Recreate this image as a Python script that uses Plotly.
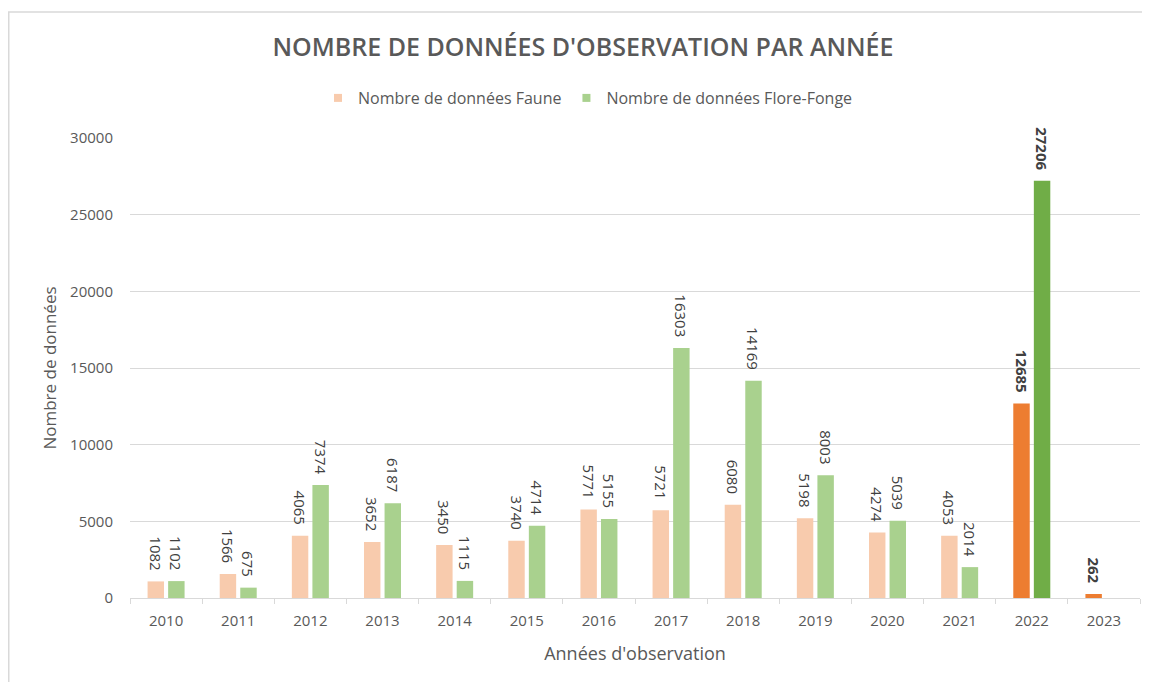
import plotly.graph_objects as go

years = ["2010", "2011", "2012", "2013", "2014", "2015", "2016", "2017",
         "2018", "2019", "2020", "2021", "2022", "2023"]
faune = [1082, 1566, 4065, 3652, 3450, 3740, 5771, 5721, 6080, 5198, 4274, 4053, 12685, 262]
flore = [1102, 675, 7374, 6187, 1115, 4714, 5155, 16303, 14169, 8003, 5039, 2014, 27206, None]
highlight_years = ["2022", "2023"]
series_names = ["Nombre de données Faune", "Nombre de données Flore-Fonge"]

FONT = "Open Sans"
GRAY = "#595959"
LABEL = "#404040"
LIGHT = ["#F8CBAD", "#A9D18E"]
DARK = ["#ED7D31", "#70AD47"]

# page body has an 8px margin; work in figure pixels
O = 8
W, H = 1150 - O, 682 - O
L = 130 - O
R = W - (1140 - O)
T = 138 - O
B = H - (598 - O)
pw = W - L - R
ph = H - T - B


def px_x(p):
    # p: figure pixel
    return (p - L) / pw


def px_y(p):
    return (H - B - p) / ph


def labels(vals):
    out = []
    for y, v in zip(years, vals):
        if v is None:
            out.append("")
        elif y in highlight_years:
            out.append(f"<b>{v}</b>\u00a0\u00a0")
        else:
            out.append(f"{v}\u00a0\u00a0")
    return out


fig = go.Figure()
for i, vals in enumerate([faune, flore]):
    colors = [DARK[i] if y in highlight_years else LIGHT[i] for y in years]
    fig.add_trace(go.Bar(
        name=series_names[i], x=years, y=vals,
        marker=dict(color=colors, line=dict(width=0)),
        text=labels(vals), textposition="outside", textangle=90,
        constraintext="none",
        textfont=dict(family=FONT, size=15, color=LABEL),
        cliponaxis=False, hoverinfo="x+y", showlegend=False,
    ))
# legend entries (small square markers)
for i in range(2):
    fig.add_trace(go.Scatter(
        name=series_names[i], x=[None], y=[None], mode="markers",
        marker=dict(symbol="square", size=8, color=LIGHT[i]),
        showlegend=True, hoverinfo="skip",
    ))

fig.update_layout(
    width=W, height=H,
    margin=dict(l=L, r=R, t=T, b=B, autoexpand=False),
    paper_bgcolor="white", plot_bgcolor="white",
    barmode="group", bargap=0.43, bargroupgap=0.2,
    font=dict(family=FONT, color=GRAY, size=15),
    title=dict(
        text="NOMBRE DE DONNÉES D'OBSERVATION PAR ANNÉE",
        x=(583 - O) / W, xanchor="center", xref="container",
        y=1 - (47 - O) / H, yanchor="middle", yref="container",
        font=dict(family=FONT, size=25, color=GRAY, weight=600),
    ),
    legend=dict(
        orientation="h", x=(588 - O) / W, xanchor="center", xref="container",
        y=1 - (98 - O) / H, yanchor="middle", yref="container",
        font=dict(family=FONT, size=16, color=GRAY),
        itemwidth=30, bgcolor="rgba(0,0,0,0)", tracegroupgap=0,
    ),
    xaxis=dict(
        type="category", automargin=False,
        title=dict(text="Années d'observation", font=dict(family=FONT, size=18, color=GRAY), standoff=18),
        showline=True, linecolor="#D9D9D9", linewidth=1,
        ticks="outside", tickson="boundaries", ticklen=5, tickcolor="#D9D9D9",
        tickfont=dict(family=FONT, size=15, color=GRAY),
        ticklabelstandoff=9,
        showgrid=False,
    ),
    yaxis=dict(
        range=[0, 30000], dtick=5000, tick0=0, tickformat="d", automargin=False,
        title=dict(text="Nombre de données", font=dict(family=FONT, size=17, color=GRAY), standoff=9),
        showgrid=True, gridcolor="#D9D9D9", gridwidth=1,
        zeroline=False, showline=False,
        tickfont=dict(family=FONT, size=15, color=GRAY),
        ticks="", ticklabelstandoff=16,
    ),
    shapes=[
        dict(type="line", xref="paper", yref="paper",
             x0=px_x(0.75), x1=px_x(0.75), y0=px_y(4), y1=px_y(H + 10),
             line=dict(color="#D9D9D9", width=1.5)),
        dict(type="line", xref="paper", yref="paper",
             x0=px_x(0), x1=px_x(W + 10), y0=px_y(4), y1=px_y(4),
             line=dict(color="#D9D9D9", width=1.5)),
    ],
)

fig.write_html("out.html")
